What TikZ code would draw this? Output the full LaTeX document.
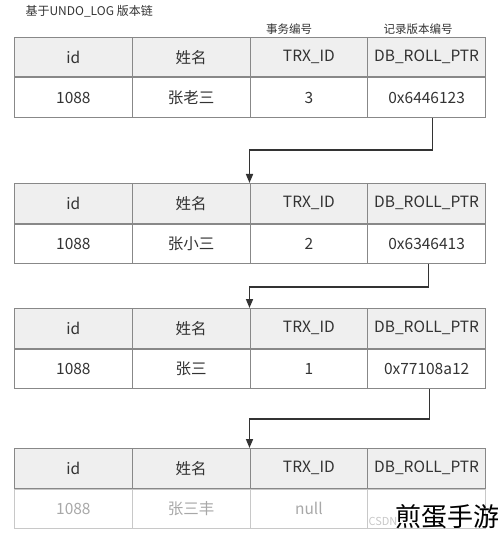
\documentclass[tikz,border=0pt]{standalone}
\usepackage{fontspec}
\setmainfont{Noto Sans CJK SC}
\usetikzlibrary{arrows.meta,positioning}

\definecolor{linegray}{HTML}{888888}
\definecolor{headgray}{HTML}{EFEFEF}
\definecolor{txtgray}{HTML}{333333}
\definecolor{fadeline}{HTML}{C8C8C8}
\definecolor{fadetxt}{HTML}{A8A8A8}

\begin{document}
\begin{tikzpicture}[x=1pt, y=-1pt,
	cell/.style={draw=linegray, line width=1pt, minimum width=117.75pt, minimum height=39.5pt, inner sep=0pt, anchor=north west, text=txtgray, font=\fontsize{15.5}{15.5}\selectfont},
	head/.style={cell, fill=headgray},
	faded/.style={cell, draw=fadeline, text=fadetxt},
	link/.style={draw=txtgray, line width=1.6pt, -{Triangle[length=9pt,width=7pt]}},
	note/.style={text=txtgray, font=\fontsize{11.5}{11.5}\selectfont}]
	\useasboundingbox (0,0) rectangle (500,537);
	% header rows
	\foreach \t/\top in {1/37, 2/183, 3/308, 4/448}
		\foreach \c/\txt in {0/id, 1/姓名, 2/TRX\_ID, 3/DB\_ROLL\_PTR}
			\node[head] (h\t\c) at (14+117.75*\c, \top) {\txt};
	% data rows
	\foreach \t/\name/\trx/\ptr in {1/张老三/3/0x6446123, 2/张小三/2/0x6346413, 3/张三/1/0x77108a12} {
		\node[cell] (d\t0) at (h\t0.south west) {1088};
		\node[cell] (d\t1) at (h\t1.south west) {\name};
		\node[cell] (d\t2) at (h\t2.south west) {\trx};
		\node[cell] (d\t3) at (h\t3.south west) {\ptr};
	}
	\node[faded] (d40) at (h40.south west) {1088};
	\node[faded] (d41) at (h41.south west) {张三丰};
	\node[faded] (d42) at (h42.south west) {null};
	\node[faded] (d43) at (h43.south west) {};
	% version chain
	\draw[link] ([xshift=6pt]d13.south) -- ++(0,32) -| (h22.north west);
	\draw[link] ([xshift=2pt]d23.south) -- ++(0,23) -| (h32.north west);
	\draw[link] ([xshift=3pt]d33.south) -- ++(0,30) -| (h42.north west);
	% labels
	\node[note, anchor=west, font=\fontsize{12}{12}\selectfont] (title) at (22,11) {基于UNDO\_LOG 版本链};
	\node[note] (trxnote) at (289,29) {事务编号};
	\node[note] (ptrnote) at (418,29) {记录版本编号};
	\node[text=fadeline, font=\fontsize{11}{11}\selectfont] (csdn) at (383,521) {CSDN};
	\node[anchor=east, inner sep=0pt, text=black, font=\fontsize{26}{26}\selectfont] (mark) at (500,517) {煎蛋手游};
\end{tikzpicture}
\end{document}
